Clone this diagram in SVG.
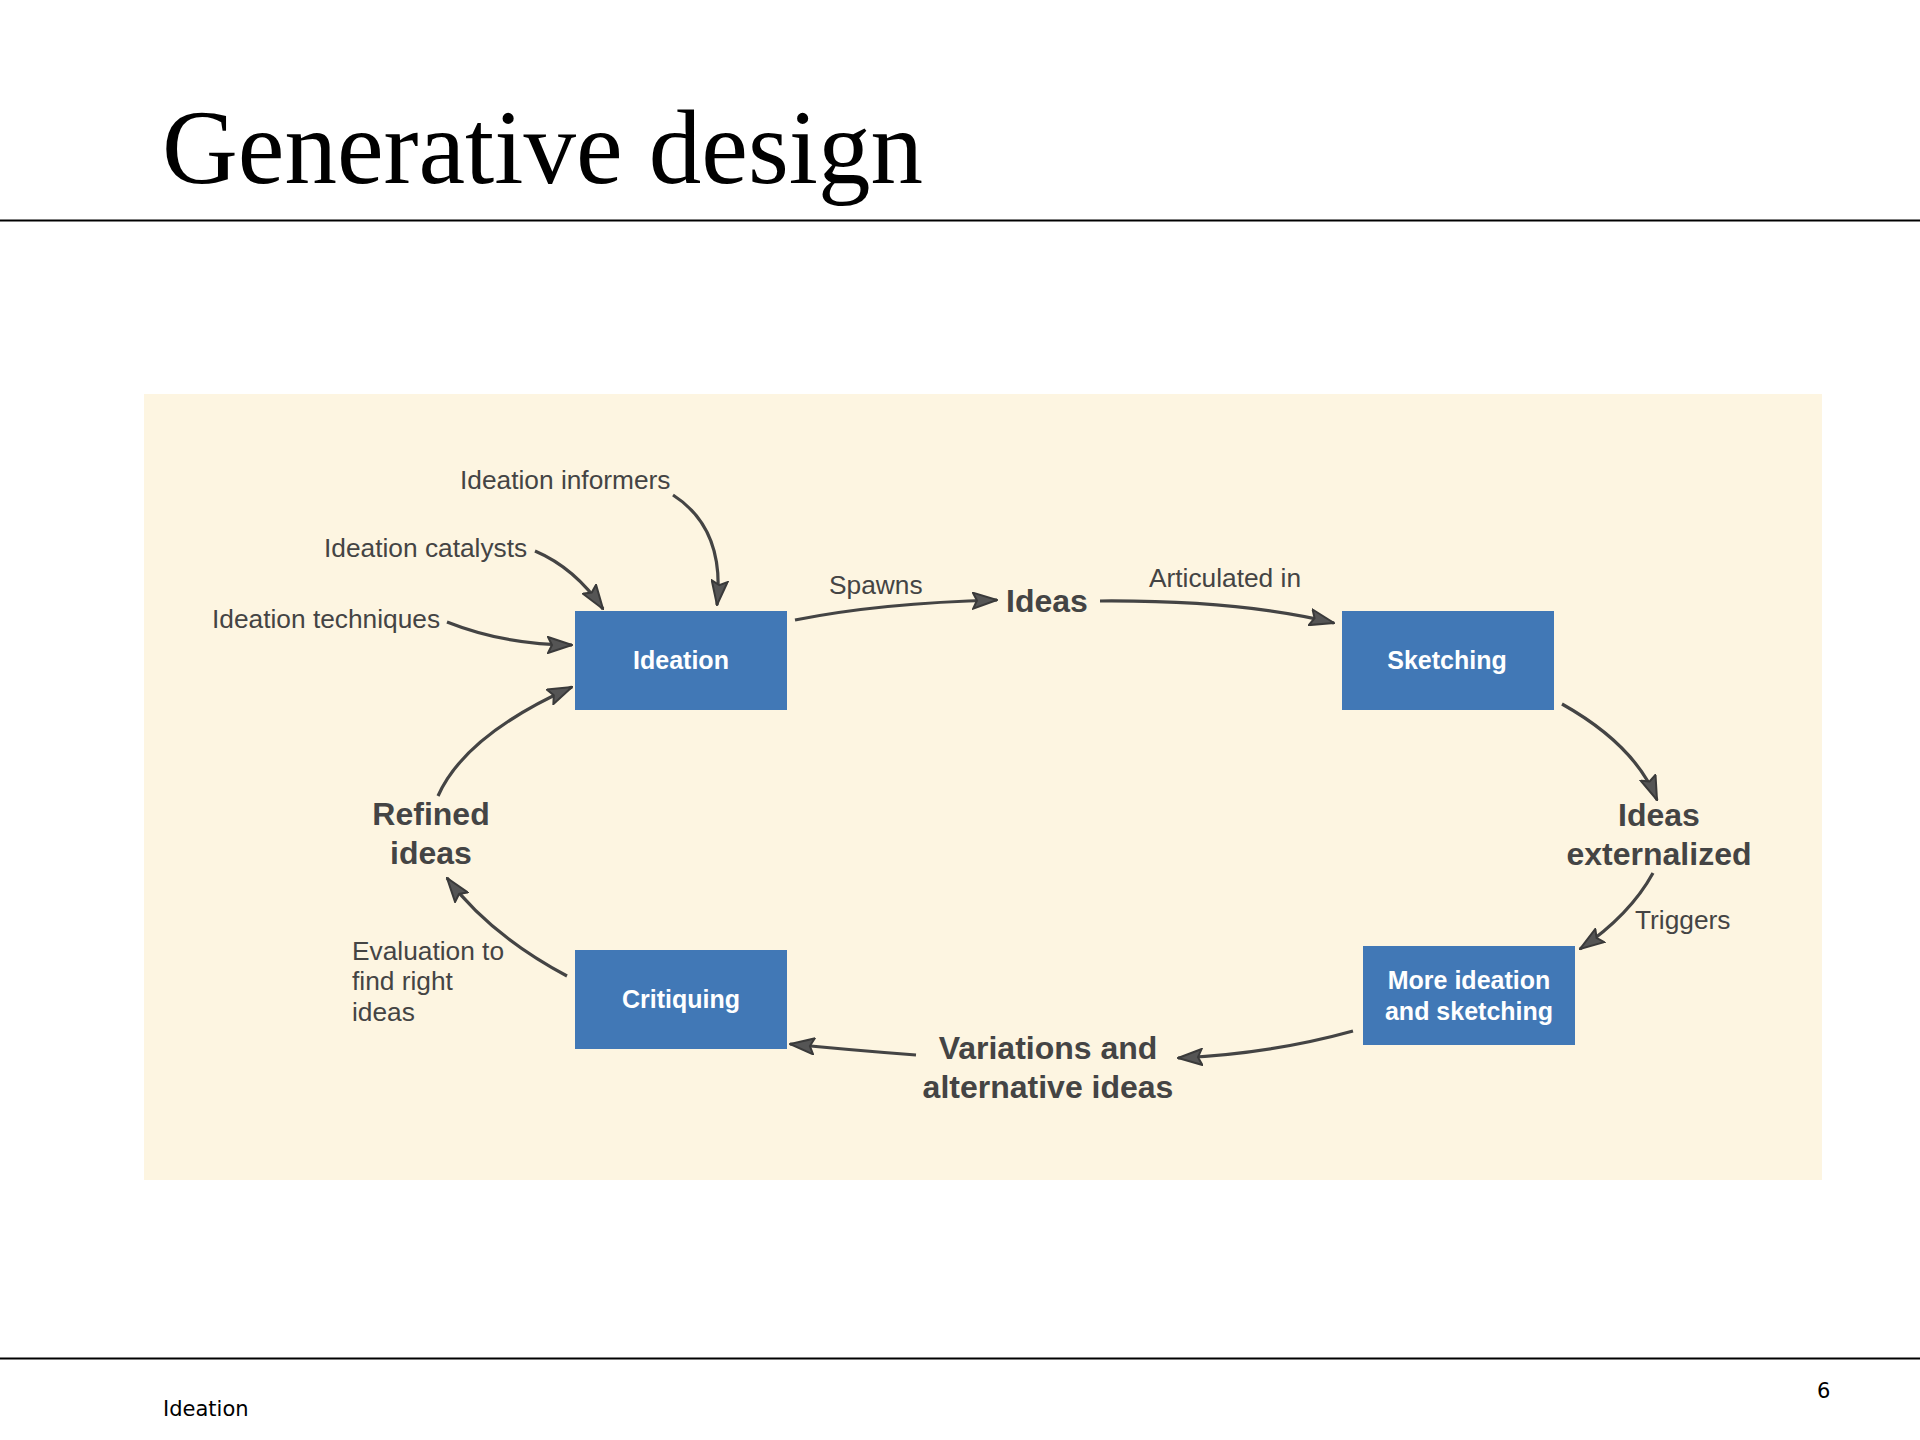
<svg xmlns="http://www.w3.org/2000/svg" width="1920" height="1440" viewBox="0 0 1920 1440">
<defs>
<marker id="ahL" viewBox="0 0 26 18" refX="25" refY="9" markerWidth="26" markerHeight="18" markerUnits="userSpaceOnUse" orient="auto">
<path d="M1,1 L25,9 L1,17 L5,9 Z" fill="#555" stroke="#3a3a3a" stroke-width="2" stroke-linejoin="miter"/>
</marker>
</defs>
<style>
.title{font-family:"Liberation Serif","Times New Roman",serif;font-size:105px;fill:#000}
.foot{font-family:"DejaVu Sans",Verdana,sans-serif;font-size:21px;fill:#000}
.lbl{font-family:"Liberation Sans",Arial,sans-serif;font-size:26.3px;fill:#444}
.big{font-family:"Liberation Sans",Arial,sans-serif;font-size:32px;font-weight:bold;fill:#444;text-anchor:middle}
.box{fill:#4178B6}
.bt{font-family:"Liberation Sans",Arial,sans-serif;font-size:25px;font-weight:bold;fill:#fff;text-anchor:middle}
.con{fill:none;stroke:#444;stroke-width:3.2;marker-end:url(#ahL)}
</style>
<rect x="0" y="0" width="1920" height="1440" fill="#fff"/>
<text class="title" x="162" y="183">Generative design</text>
<line x1="0" y1="220.5" x2="1920" y2="220.5" stroke="#000" stroke-width="2"/>
<line x1="0" y1="1358.5" x2="1920" y2="1358.5" stroke="#000" stroke-width="2"/>
<text class="foot" x="163" y="1416">Ideation</text>
<text class="foot" x="1817" y="1398">6</text>
<rect x="144" y="394" width="1678" height="786" fill="#FDF5E1"/>

<g id="connectors">
<path class="con" d="M673,495 C712,520 722,560 717,605"/>
<path class="con" d="M535,551 Q575,568 603,609"/>
<path class="con" d="M447,622 Q505,645 572,645"/>
<path class="con" d="M795,620 Q880,603 997,600"/>
<path class="con" d="M1100,601 Q1240,600 1334,623"/>
<path class="con" d="M1562,704 Q1635,745 1657,800"/>
<path class="con" d="M1653,873 Q1630,915 1580,949"/>
<path class="con" d="M1353,1031 Q1270,1054 1178,1058"/>
<path class="con" d="M916,1055 Q850,1050 790,1044"/>
<path class="con" d="M567,976 Q490,935 447,878"/>
<path class="con" d="M438,796 Q465,735 572,687"/>
</g>

<g id="node-ideation">
<rect class="box" x="575" y="611" width="212" height="99"/>
<text class="bt" x="681" y="669">Ideation</text>
</g>
<g id="node-sketching">
<rect class="box" x="1342" y="611" width="212" height="99"/>
<text class="bt" x="1447" y="669">Sketching</text>
</g>
<g id="node-more">
<rect class="box" x="1363" y="946" width="212" height="99"/>
<text class="bt" x="1469" y="989">More ideation</text>
<text class="bt" x="1469" y="1020">and sketching</text>
</g>
<g id="node-critiquing">
<rect class="box" x="575" y="950" width="212" height="99"/>
<text class="bt" x="681" y="1008">Critiquing</text>
</g>

<g id="node-informers"><text class="lbl" x="460" y="489">Ideation informers</text></g>
<g id="node-catalysts"><text class="lbl" x="324" y="557">Ideation catalysts</text></g>
<g id="node-techniques"><text class="lbl" x="212" y="628">Ideation techniques</text></g>
<g id="label-spawns"><text class="lbl" x="829" y="594">Spawns</text></g>
<g id="node-ideas"><text class="big" x="1047" y="612">Ideas</text></g>
<g id="label-articulated"><text class="lbl" x="1149" y="587">Articulated in</text></g>
<g id="node-externalized">
<text class="big" x="1659" y="826">Ideas</text>
<text class="big" x="1659" y="865">externalized</text>
</g>
<g id="label-triggers"><text class="lbl" x="1635" y="929">Triggers</text></g>
<g id="node-variations">
<text class="big" x="1048" y="1059">Variations and</text>
<text class="big" x="1048" y="1098">alternative ideas</text>
</g>
<g id="node-refined">
<text class="big" x="431" y="825">Refined</text>
<text class="big" x="431" y="864">ideas</text>
</g>
<g id="label-evaluation">
<text class="lbl" x="352" y="960">Evaluation to</text>
<text class="lbl" x="352" y="990">find right</text>
<text class="lbl" x="352" y="1021">ideas</text>
</g>
</svg>
